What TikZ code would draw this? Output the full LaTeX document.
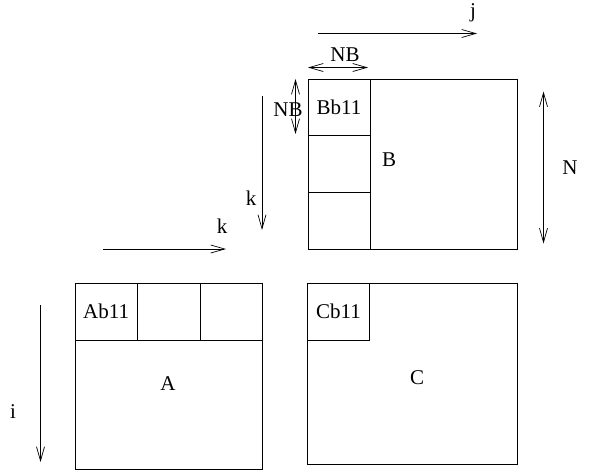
\documentclass[tikz,border=0pt]{standalone}
\usepackage{fontspec}
\setmainfont{Liberation Serif}
\usetikzlibrary{arrows.meta}
\tikzset{
  every node/.style = {font=\fontsize{21}{25}\selectfont},
  mat/.style = {draw, line width=0.8pt, inner sep=0pt, anchor=north west},
  blk/.style = {mat, minimum width=62pt, minimum height=57pt},
  lbl/.style = {inner sep=0pt},
  dim/.style = {line width=0.7pt, -{Straight Barb[length=14pt,width=8pt]}},
  ddim/.style = {line width=0.7pt, {Straight Barb[length=14pt,width=8pt]}-{Straight Barb[length=14pt,width=8pt]}}
}

\begin{document}
\begin{tikzpicture}[x=1pt, y=-1pt]
\useasboundingbox (0,0) rectangle (591,475);

% -- matrix B with its column of blocks
\node[mat, minimum width=209.5pt, minimum height=170pt] (B) at (307.5,78.5) {};
\node[blk, minimum height=56.7pt] (Bb11) at (307.5,78.5) {Bb11};
\node[blk, minimum height=56.7pt] (Bb21) at (307.5,135.2) {};
\node[blk, minimum height=56.7pt] (Bb31) at (307.5,191.9) {};
\node[lbl] (Blab) at (389,160) {B};

% -- matrix A with its row of blocks
\node[mat, minimum width=187.5pt, minimum height=186.5pt] (A) at (74.5,282.5) {};
\node[blk, minimum width=62.5pt] (Ab11) at (74.5,282.5) {Ab11};
\node[blk, minimum width=62.5pt] (Ab12) at (137,282.5) {};
\node[blk, minimum width=62.5pt] (Ab13) at (199.5,282.5) {};
\node[lbl] (Alab) at (168,384) {A};

% -- matrix C
\node[mat, minimum width=210pt, minimum height=181.5pt] (C) at (307,282.5) {};
\node[blk] (Cb11) at (307,282.5) {Cb11};
\node[lbl] (Clab) at (417,378) {C};

% -- index arrows
\coordinate (j0) at (318,33.5);  \coordinate (j1) at (477,33.5);
\coordinate (nbh0) at (308,67.5); \coordinate (nbh1) at (368,67.5);
\coordinate (nbv0) at (295.5,79); \coordinate (nbv1) at (295.5,134);
\coordinate (kv0) at (262,96);    \coordinate (kv1) at (262,230);
\coordinate (n0) at (543.5,91.5); \coordinate (n1) at (543.5,243.5);
\coordinate (kh0) at (103,249);   \coordinate (kh1) at (226,249);
\coordinate (i0) at (40.5,305);   \coordinate (i1) at (40.5,462);

\draw[dim] (j0) -- (j1);
\draw[ddim] (nbh0) -- (nbh1);
\draw[ddim] (nbv0) -- (nbv1);
\draw[dim] (kv0) -- (kv1);
\draw[ddim] (n0) -- (n1);
\draw[dim] (kh0) -- (kh1);
\draw[dim] (i0) -- (i1);

\node[lbl] (jlab) at (473,13) {j};
\node[lbl] (nbhlab) at (345,55) {NB};
\node[lbl] (nbvlab) at (288,110) {NB};
\node[lbl] (kvlab) at (251,198) {k};
\node[lbl] (nlab) at (570,168) {N};
\node[lbl] (khlab) at (222,226) {k};
\node[lbl] (ilab) at (13,412) {i};

\end{tikzpicture}
\end{document}
